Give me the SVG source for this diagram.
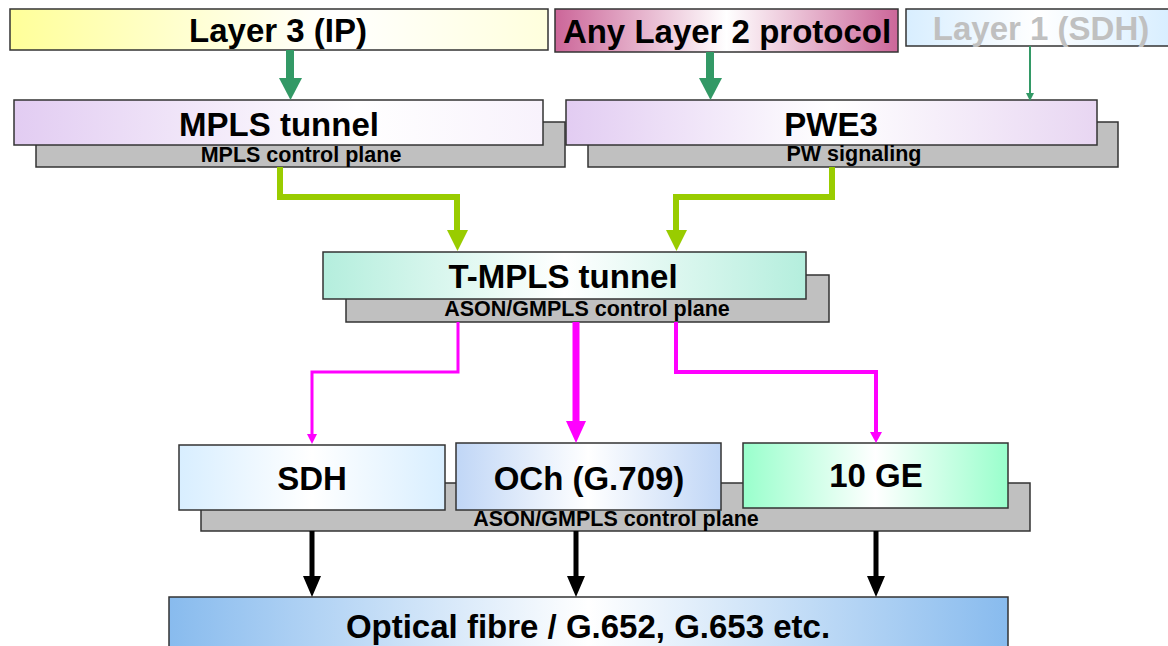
<svg xmlns="http://www.w3.org/2000/svg" width="1168" height="646" viewBox="0 0 1168 646">
<defs>
<linearGradient id="gY" x1="0" x2="1" y1="0" y2="0"><stop offset="0" stop-color="#FFFF99"/><stop offset="0.6" stop-color="#FFFFFF"/><stop offset="1" stop-color="#FFFFDD"/></linearGradient>
<linearGradient id="gP" x1="0" x2="1" y1="0" y2="0"><stop offset="0" stop-color="#CC6699"/><stop offset="0.5" stop-color="#FFFFFF"/><stop offset="1" stop-color="#CC6699"/></linearGradient>
<linearGradient id="gB" x1="0" x2="1" y1="0" y2="0"><stop offset="0" stop-color="#D8EEFF"/><stop offset="0.5" stop-color="#FFFFFF"/><stop offset="1" stop-color="#D8EEFF"/></linearGradient>
<linearGradient id="gL" x1="0" x2="1" y1="0" y2="0"><stop offset="0" stop-color="#E2CCF2"/><stop offset="0.5" stop-color="#FFFFFF"/><stop offset="1" stop-color="#E8D6F2"/></linearGradient>
<linearGradient id="gM" x1="0" x2="1" y1="0" y2="0"><stop offset="0" stop-color="#E2CCF2"/><stop offset="0.65" stop-color="#FFFFFF"/><stop offset="1" stop-color="#F8F2FC"/></linearGradient>
<linearGradient id="gT" x1="0" x2="1" y1="0" y2="0"><stop offset="0" stop-color="#B4EEDD"/><stop offset="0.5" stop-color="#FFFFFF"/><stop offset="1" stop-color="#B4EEDD"/></linearGradient>
<linearGradient id="gO" x1="0" x2="1" y1="0" y2="0"><stop offset="0" stop-color="#C0D6F6"/><stop offset="0.5" stop-color="#FFFFFF"/><stop offset="1" stop-color="#C0D6F6"/></linearGradient>
<linearGradient id="gG" x1="0" x2="1" y1="0" y2="0"><stop offset="0" stop-color="#99FFCC"/><stop offset="0.5" stop-color="#FFFFFF"/><stop offset="1" stop-color="#99FFCC"/></linearGradient>
<linearGradient id="gF" x1="0" x2="1" y1="0" y2="0"><stop offset="0" stop-color="#88BBEE"/><stop offset="0.5" stop-color="#FFFFFF"/><stop offset="1" stop-color="#88BBEE"/></linearGradient>
</defs>
<style>
.box{stroke:#333333;stroke-width:1.5}
.sh{fill:#C0C0C0;stroke:#333333;stroke-width:1.5}
.big{font-family:"Liberation Sans",Arial,sans-serif;font-weight:bold;font-size:33px;text-anchor:middle;fill:#000}
.sm{font-family:"Liberation Sans",Arial,sans-serif;font-weight:bold;font-size:21.5px;text-anchor:middle;fill:#000}
.gl{fill:none;stroke:#99CC00;stroke-width:6}
.mg{fill:none;stroke:#FF00FF}
</style>
<g id="layer3"><rect class="box" x="10" y="9" width="538" height="41" fill="url(#gY)"/><text class="big" x="278" y="42">Layer 3 (IP)</text></g>
<g id="layer2"><rect class="box" x="555" y="9" width="343" height="43" fill="url(#gP)"/><text class="big" x="727" y="43">Any Layer 2 protocol</text></g>
<g id="layer1"><rect class="box" x="906" y="9" width="264" height="37" fill="url(#gB)"/><text class="big" x="1041" y="40" style="fill:#C0C0C0">Layer 1 (SDH)</text></g>
<g id="mpls"><rect class="sh" x="36" y="122" width="529" height="45"/><rect class="box" x="14" y="100" width="529" height="45" fill="url(#gM)"/><text class="big" x="279" y="136">MPLS tunnel</text><text class="sm" x="301" y="162">MPLS control plane</text></g>
<g id="pwe3"><rect class="sh" x="588" y="122" width="530" height="45"/><rect class="box" x="566" y="100" width="531" height="45" fill="url(#gL)"/><text class="big" x="831" y="136">PWE3</text><text class="sm" x="854" y="161">PW signaling</text></g>
<g id="tmpls"><rect class="sh" x="346" y="275" width="483" height="47"/><rect class="box" x="323" y="252" width="483" height="47" fill="url(#gT)"/><text class="big" x="563" y="288">T-MPLS tunnel</text><text class="sm" x="587" y="316">ASON/GMPLS control plane</text></g>
<g id="lower-plane"><rect class="sh" x="201" y="483" width="829" height="48"/><text class="sm" x="616" y="526">ASON/GMPLS control plane</text></g>
<g id="sdh"><rect class="box" x="179" y="445" width="266" height="65" fill="url(#gB)"/><text class="big" x="312" y="490">SDH</text></g>
<g id="och"><rect class="box" x="456" y="443" width="265" height="67" fill="url(#gO)"/><text class="big" x="589" y="490">OCh (G.709)</text></g>
<g id="ge"><rect class="box" x="743" y="443" width="265" height="65" fill="url(#gG)"/><text class="big" x="876" y="487">10 GE</text></g>
<g id="fibre"><rect class="box" x="169" y="597" width="839" height="60" fill="url(#gF)"/><text class="big" x="588" y="638">Optical fibre / G.652, G.653 etc.</text></g>
<g id="connectors">
<path d="M290 50V79" stroke="#339966" stroke-width="8" fill="none"/><path d="M279 78H302L290.5 100Z" fill="#339966"/>
<path d="M710 52V79" stroke="#339966" stroke-width="8" fill="none"/><path d="M699 78H722L710.5 100Z" fill="#339966"/>
<path d="M1030 46V94" stroke="#339966" stroke-width="2" fill="none"/><path d="M1026 93H1034L1030 101Z" fill="#339966"/>
<path class="gl" d="M280 167V197H457V232"/><path d="M447 230H468L457.5 251Z" fill="#99CC00"/>
<path class="gl" d="M832 167V197H676V232"/><path d="M666 230H687L676.5 251Z" fill="#99CC00"/>
<path class="mg" stroke-width="3" d="M458 322V372H312V435"/><path d="M307 434H317L312 444Z" fill="#FF00FF"/>
<path class="mg" stroke-width="7" d="M576 322V422"/><path d="M566 421H586L576 443Z" fill="#FF00FF"/>
<path class="mg" stroke-width="4" d="M676 322V372H876V433"/><path d="M870 432H882L876 443Z" fill="#FF00FF"/>
<path d="M312 531V578M576 531V578M876 531V578" stroke="#000" stroke-width="5" fill="none"/>
<path d="M303 576H321L312 597ZM567 576H585L576 597ZM867 576H885L876 597Z" fill="#000"/>
</g>
</svg>
